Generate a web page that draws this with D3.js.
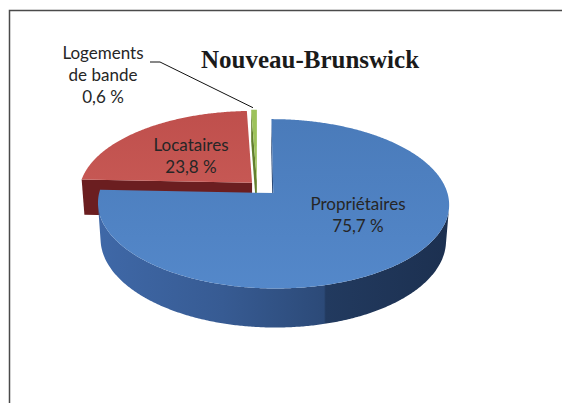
<!DOCTYPE html>
<html>
<head>
<meta charset="utf-8">
<script src="https://cdn.jsdelivr.net/npm/d3@7"></script>
<style>
  body { margin: 0; background: #fff; }
</style>
</head>
<body>
<svg id="chart" width="562" height="403"></svg>
<script>
// data
const categories = ["Propriétaires", "Locataires", "Logements de bande"];
const shares = [75.7, 23.8, 0.6];
const shareLabels = ["75,7 %", "23,8 %", "0,6 %"];
const title = "Nouveau-Brunswick";

// how far each slice is pulled out (fraction of radius)
const explode = [0.135, 0.041, 0.049];

const W = 562, H = 403;

// 3d view of the pie: tilt, perspective distance, thickness
const cx = 257, cy = 185, S = 172;
const tilt = 28.2 * Math.PI / 180;
const sinT = Math.sin(tilt), cosT = Math.cos(tilt);
const dist = 7.0, thick = 0.237;
const cam = [0, dist * sinT, dist * cosT];

function project(p) {
  const w = 1 - (p[1] * sinT + p[2] * cosT) / dist;
  return [cx + p[0] * S / w, cy - (p[1] * cosT - p[2] * sinT) * S / w];
}
const depth = p => dist - p[1] * sinT - p[2] * cosT;
const facing = (p, n) => (cam[0] - p[0]) * n[0] + (cam[1] - p[1]) * n[1] + (cam[2] - p[2]) * n[2] > 0;

const svg = d3.select("#chart");
const defs = svg.append("defs");

function grad(id, x1, y1, x2, y2, stops) {
  const g = defs.append("linearGradient").attr("id", id)
    .attr("gradientUnits", "userSpaceOnUse")
    .attr("x1", x1).attr("y1", y1).attr("x2", x2).attr("y2", y2);
  stops.forEach(([o, c]) => g.append("stop").attr("offset", o).attr("stop-color", c));
  return `url(#${id})`;
}

const styles = [
  {
    top: grad("blueTop", 0, 120, 0, 290, [[0, "#4a7bba"], [1, "#5488ca"]]),
    rim: grad("blueRim", 100, 0, 450, 0, [[0, "#3f68a7"], [0.35, "#375b93"], [0.64, "#2c4a78"], [0.645, "#223a5f"], [1, "#1c3050"]]),
    cut: "#2b4a78"
  },
  {
    top: grad("redTop", 0, 110, 0, 185, [[0, "#bf4f4c"], [1, "#c65854"]]),
    rim: "#5e1819",
    cut: "#6b1e20"
  },
  {
    top: "#9dc25b",
    rim: "#5d7a2c",
    cut: "#627f2e"
  }
];

svg.append("rect").attr("width", W).attr("height", H).attr("fill", "#fff");
svg.append("rect")
  .attr("x", 9.5).attr("y", 10.5).attr("width", 700).attr("height", 600)
  .attr("fill", "none").attr("stroke", "#4a4a4a").attr("stroke-width", 1.5);

// slices from d3.pie: angles clockwise from 12 o'clock
const arcs = d3.pie().sort(null).value(d => d)(shares);
const slices = arcs.map((a, i) => {
  const mid = (a.startAngle + a.endAngle) / 2;
  return {
    i, a0: a.startAngle, a1: a.endAngle,
    ox: explode[i] * Math.sin(mid), oz: -explode[i] * Math.cos(mid)
  };
});

const world = (s, phi, r, y) => [s.ox + r * Math.sin(phi), y, s.oz - r * Math.cos(phi)];
function samples(a0, a1) {
  const n = Math.max(2, Math.ceil((a1 - a0) / (Math.PI / 360)));
  return d3.range(n + 1).map(k => a0 + (a1 - a0) * k / n);
}
const path = pts => d3.line()(pts) + "Z";

// side faces (rim + cut faces), back to front
const sides = [];
slices.forEach(s => {
  const vis = samples(s.a0, s.a1).filter(phi =>
    facing(world(s, phi, 1, -thick / 2), [Math.sin(phi), 0, -Math.cos(phi)]));
  if (vis.length > 1) {
    const topPts = vis.map(phi => project(world(s, phi, 1, 0)));
    const botPts = vis.slice().reverse().map(phi => project(world(s, phi, 1, -thick)));
    const m = (vis[0] + vis[vis.length - 1]) / 2;
    sides.push({ s, fill: styles[s.i].rim, pts: topPts.concat(botPts), z: depth(world(s, m, 1, -thick / 2)) });
  }
  [[s.a0, [-Math.cos(s.a0), 0, -Math.sin(s.a0)]], [s.a1, [Math.cos(s.a1), 0, Math.sin(s.a1)]]]
    .forEach(([phi, n]) => {
      const c = world(s, phi, 0.5, -thick / 2);
      if (!facing(c, n)) return;
      const pts = [world(s, phi, 0, 0), world(s, phi, 1, 0), world(s, phi, 1, -thick), world(s, phi, 0, -thick)]
        .map(project);
      sides.push({ s, fill: styles[s.i].cut, pts, z: depth(c) });
    });
});
sides.sort((a, b) => b.z - a.z);

const pieG = svg.append("g");
pieG.selectAll("path.side")
  .data(sides)
  .enter().append("path")
  .attr("class", "side")
  .attr("d", d => path(d.pts))
  .attr("fill", d => d.fill);

pieG.selectAll("path.top")
  .data(slices)
  .enter().append("path")
  .attr("class", "top")
  .attr("d", s => path([project(world(s, 0, 0, 0))].concat(samples(s.a0, s.a1).map(phi => project(world(s, phi, 1, 0))))))
  .attr("fill", s => styles[s.i].top);

// title
svg.append("text")
  .attr("x", 310).attr("y", 68)
  .attr("text-anchor", "middle")
  .style("font-family", "'Liberation Serif', serif")
  .style("font-weight", "bold")
  .style("font-size", "25px")
  .attr("fill", "#1a1a1a")
  .text(title);

// data labels
const labelFont = "Lato, 'Open Sans', sans-serif";
const labelLayout = [
  { x: 358, y: 210, lines: ["Propriétaires"] },
  { x: 191, y: 151, lines: ["Locataires"] },
  { x: 103, y: 59, lines: ["Logements", "de bande"] }
];
labelLayout.forEach((l, i) => {
  const t = svg.append("text")
    .attr("text-anchor", "middle")
    .style("font-family", labelFont)
    .style("font-size", "17px")
    .attr("fill", "#262626");
  l.lines.concat([shareLabels[i]]).forEach((line, k) => {
    t.append("tspan").attr("x", l.x).attr("y", l.y + k * 22).text(line);
  });
});

// leader line to the small slice
const g = slices[2];
const tip = project(world(g, (g.a0 + g.a1) / 2, 1, 0));
svg.append("path")
  .attr("d", d3.line()([[150, 62], [160, 62], [tip[0] - 1, tip[1] - 2]]))
  .attr("fill", "none")
  .attr("stroke", "#111")
  .attr("stroke-width", 1);
</script>
</body>
</html>
